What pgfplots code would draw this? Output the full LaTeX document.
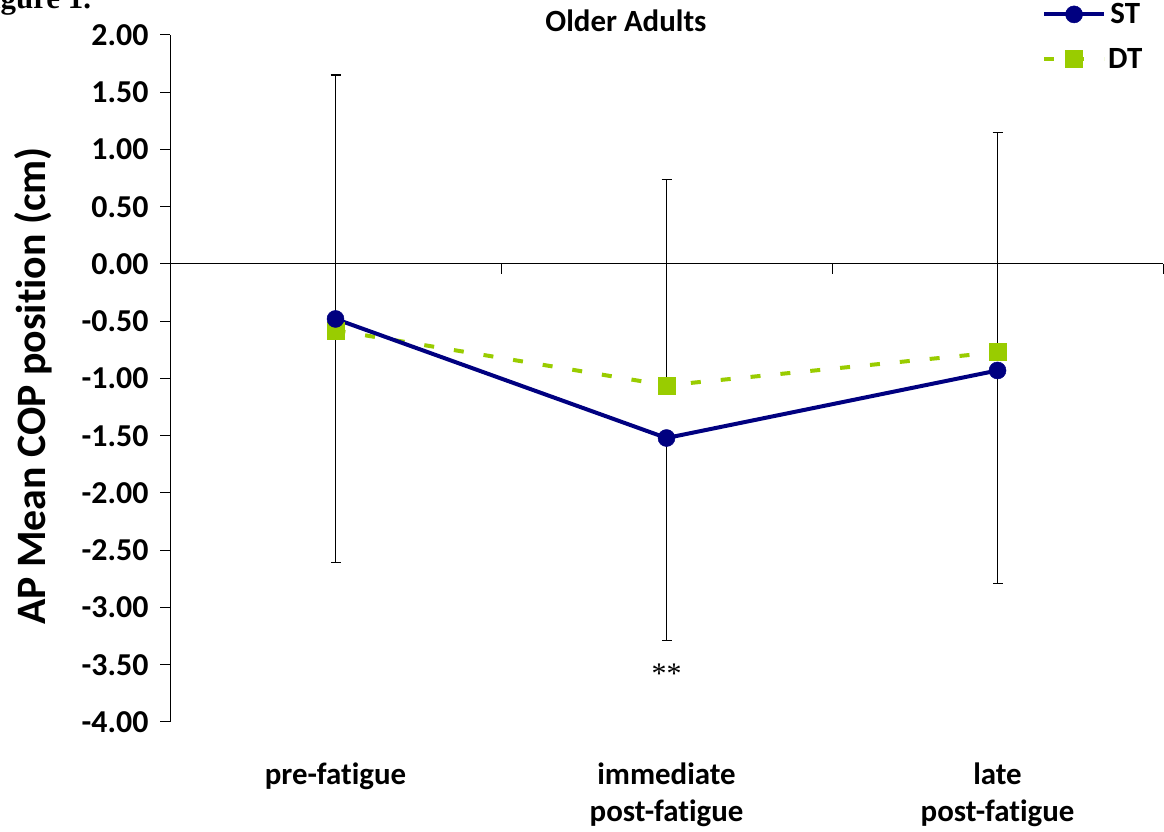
\documentclass[border=0pt]{standalone}
\usepackage{fontspec}
\setmainfont{Carlito}[Ligatures=NoCommon]
\newfontfamily\timesfont{Liberation Serif}
\usepackage{pgfplots}
\pgfplotsset{compat=1.18}
\definecolor{stblue}{HTML}{000080}
\definecolor{dtgreen}{HTML}{99CC00}
\begin{document}
\begin{tikzpicture}[x=1bp,y=1bp]
\path[use as bounding box] (0,0) rectangle (1164,832);
\node[anchor=base west, font=\timesfont\bfseries\fontsize{31}{31}\selectfont, inner sep=0] at (-27,823) {Figure 1.};
\begin{axis}[
  at={(170bp,110bp)}, anchor=south west,
  scale only axis, width=993bp, height=687bp,
  xmin=0, xmax=3, ymin=-4, ymax=2,
  axis y line*=left, axis x line*=bottom,
  x axis line style={draw=none},
  y axis line style={line width=1bp},
  xtick={0.5,1.5,2.5},
  xticklabels={pre-fatigue, immediate\\post-fatigue, late\\post-fatigue},
  x tick style={draw=none},
  xticklabel style={align=center, anchor=north, yshift=-27bp, font=\bfseries\fontsize{31}{37}\selectfont},
  ytick={-4,-3.5,-3,-2.5,-2,-1.5,-1,-0.5,0,0.5,1,1.5,2},
  y tick style={line width=1bp, black},
  tick align=outside, major tick length=10bp,
  yticklabel style={font=\bfseries\fontsize{32}{32}\selectfont, xshift=-8bp},
  /pgf/number format/.cd, fixed, fixed zerofill, precision=2, assume math mode=true,
  /pgfplots/.cd,
  ylabel={AP Mean COP position (cm)},
  ylabel style={at={(axis description cs:-0.138,0.489)}, anchor=center, font=\bfseries\fontsize{42}{42}\selectfont},
  reverse legend,
  legend style={draw=none, fill=none, at={(axis description cs:0.878,1.049)}, anchor=north west,
    font=\bfseries\fontsize{31}{31}\selectfont, row sep=19bp, inner sep=0pt},
  legend image code/.code={\draw[mark repeat=2,mark phase=2,#1] plot coordinates {(0bp,0bp) (30bp,0bp) (60bp,0bp)};},
  clip=false,
]
\draw[line width=1bp] (axis cs:0,0) -- (axis cs:3,0);
\draw[line width=1bp] (axis cs:1,0) -- ([yshift=-10bp]axis cs:1,0);
\draw[line width=1bp] (axis cs:2,0) -- ([yshift=-10bp]axis cs:2,0);
\draw[line width=1bp] (axis cs:3,0) -- ([yshift=-10bp]axis cs:3,0);
\addplot[dtgreen, line width=4bp, dash pattern=on 10bp off 20bp,
  mark=square*, mark size=8.5bp, mark options={solid, fill=dtgreen, line width=0.5bp},
  error bars/.cd, y dir=plus, y explicit,
  error bar style={black, line width=1.2bp, solid},
  error mark options={rotate=90, mark size=5bp, black, line width=1.2bp, solid}]
  coordinates {(0.5,-0.58) += (0,2.23) (1.5,-1.06) += (0,1.80) (2.5,-0.77) += (0,1.92)};
\addlegendentry{DT}
\addplot[stblue, line width=4bp, line join=round,
  mark=*, mark size=8.5bp, mark options={solid, fill=stblue, line width=0.5bp},
  error bars/.cd, y dir=minus, y explicit,
  error bar style={black, line width=1.2bp},
  error mark options={rotate=90, mark size=5bp, black, line width=1.2bp}]
  coordinates {(0.5,-0.48) -= (0,2.13) (1.5,-1.52) -= (0,1.77) (2.5,-0.93) -= (0,1.86)};
\addlegendentry{ST}
\node[font=\timesfont\fontsize{30}{30}\selectfont] at (axis cs:1.5,-3.58) {**};
\end{axis}
\node[font=\bfseries\fontsize{31}{31}\selectfont] at (626,811) {Older Adults};
\end{tikzpicture}
\end{document}
